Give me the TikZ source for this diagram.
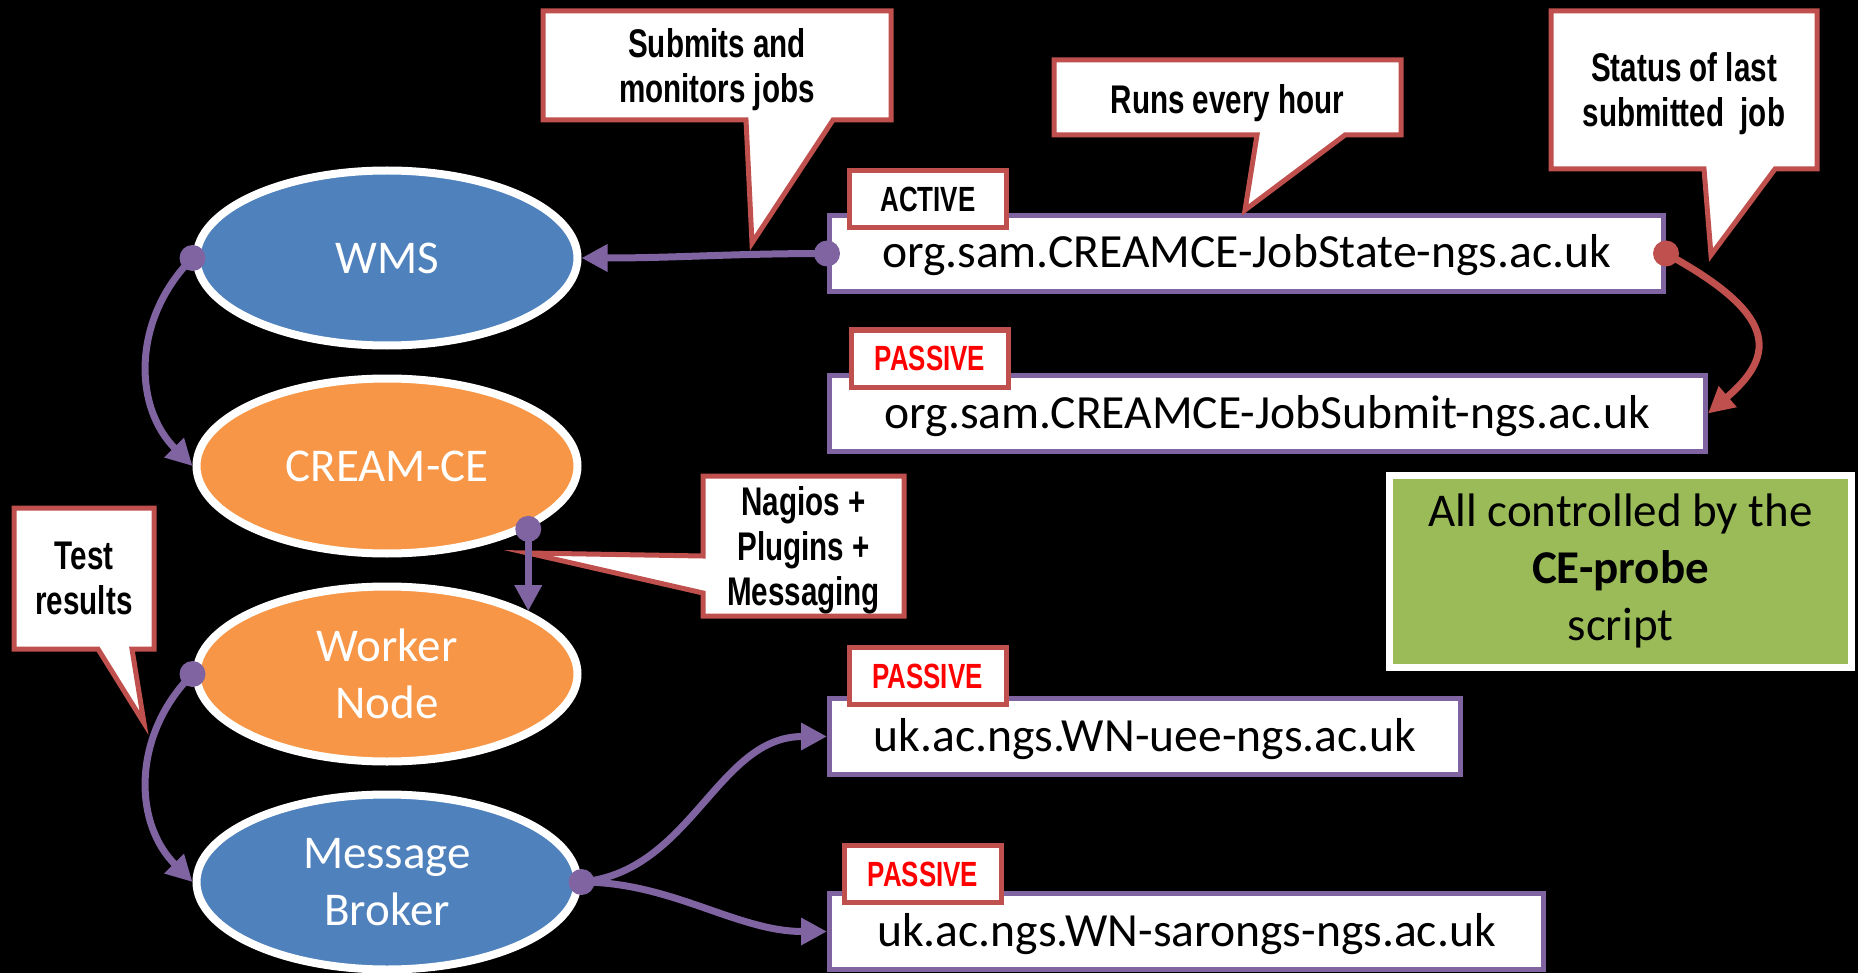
\documentclass[tikz,border=0pt]{standalone}
\usepackage{fontspec}
\setmainfont{Carlito}
\newfontfamily\narrowfont[FakeStretch=0.74]{Liberation Sans}
\usetikzlibrary{shapes.geometric,arrows.meta}

\definecolor{wmsblue}{HTML}{4F81BD}
\definecolor{ceorange}{HTML}{F79646}
\definecolor{linkpurple}{HTML}{8064A2}
\definecolor{calloutred}{HTML}{C0504D}
\definecolor{scriptgreen}{HTML}{9BBB59}
\definecolor{passivered}{HTML}{FF0000}

\begin{document}
\begin{tikzpicture}[x=0.5pt,y=0.5pt,
  service/.style={ellipse, draw=white, line width=4pt, minimum width=190.5pt, minimum height=87.5pt, inner sep=0pt, text=white, align=center, font=\fontsize{23.5}{28.5}\selectfont},
  probe/.style={draw=linkpurple, fill=white, line width=2.5pt, minimum height=38pt, inner sep=0pt, text height=14.5pt, text depth=0pt, font=\fontsize{23.8}{28}\selectfont},
  tag/.style={draw=calloutred, fill=white, line width=2.5pt, minimum width=78.5pt, minimum height=28.5pt, inner sep=0pt, text height=12.5pt, text depth=0pt, font=\narrowfont\bfseries\fontsize{17.5}{20}\selectfont},
  bubble/.style={draw=calloutred, fill=white, line width=2.5pt, line join=miter},
  note/.style={align=center, text depth=0pt, font=\narrowfont\bfseries\fontsize{20}{22.5}\selectfont},
  link/.style={draw=linkpurple, line width=3.5pt, -{Triangle[length=13pt,width=13pt]}},
  dot/.style={circle, fill=linkpurple, minimum size=13pt, inner sep=0pt}]

\fill[black] (0,0) rectangle (1858,-973);
\useasboundingbox (0,0) rectangle (1858,-973);

\node (wms) at (387,-258) [service, fill=wmsblue] {WMS};
\node (cream) at (387,-466) [service, fill=ceorange] {CREAM-CE};
\node (worker) at (387,-674) [service, fill=ceorange] {Worker\\Node};
\node (broker) at (387,-882) [service, fill=wmsblue] {Message\\Broker};

\node (js) at (1246.5,-253.5) [probe, minimum width=417pt] {org.sam.CREAMCE-JobState-ngs.ac.uk};
\node (jsub) at (1267.5,-413.5) [probe, minimum width=438pt] {org.sam.CREAMCE-JobSubmit-ngs.ac.uk};
\node (uee) at (1145,-736.5) [probe, minimum width=315.5pt] {uk.ac.ngs.WN-uee-ngs.ac.uk};
\node (sarongs) at (1186.5,-931.5) [probe, minimum width=357pt] {uk.ac.ngs.WN-sarongs-ngs.ac.uk};

\node (active) at (928,-199) [tag] {ACTIVE};
\node (passive1) at (930,-358.5) [tag, text=passivered] {PASSIVE};
\node (passive2) at (927.5,-676) [tag, text=passivered] {PASSIVE};
\node (passive3) at (923,-873.5) [tag, text=passivered] {PASSIVE};

\node (ctrl) at (1620.5,-571) [draw=white, fill=scriptgreen, line width=3.5pt, minimum width=231pt, minimum height=96pt, align=center, font=\fontsize{23.5}{28.5}\selectfont] {All controlled by the\\\textbf{CE-probe}\\script};

\draw[bubble] (543,-11) -- (891,-11) -- (891,-120) -- (833,-120) -- (752,-243) -- (746,-120) -- (543,-120) -- cycle;
\node (submits) at (717,-65.5) [note] {Submits and\\monitors jobs};
\draw[bubble] (1054,-60) -- (1401,-60) -- (1401,-135) -- (1345,-135) -- (1245,-210) -- (1257,-135) -- (1054,-135) -- cycle;
\node (hourly) at (1227.5,-99) [note] {Runs every hour};
\draw[bubble] (1551,-11) -- (1817,-11) -- (1817,-169) -- (1775,-169) -- (1711,-255) -- (1704,-169) -- (1551,-169) -- cycle;
\node (status) at (1684,-90) [note] {Status of last\\submitted\ \ job};
\draw[bubble] (703,-476) -- (904,-476) -- (904,-616) -- (703,-616) -- (703,-593) -- (528,-553) -- (703,-556) -- cycle;
\node (nagios) at (803.5,-546) [note] {Nagios +\\Plugins +\\Messaging};
\draw[bubble] (14,-508) -- (154,-508) -- (154,-649) -- (132,-649) -- (144,-723) -- (98,-649) -- (14,-649) -- cycle;
\node (results) at (84,-578.5) [note] {Test\\results};

\draw[link] (js.west) to[out=180,in=0] (wms.east);
\draw[link] (wms.west) .. controls +(-60,-60) and +(-60,60) .. (cream.west);
\draw[link] (cream.-24) -- (worker.24);
\draw[link] (worker.west) .. controls +(-60,-60) and +(-60,60) .. (broker.west);
\draw[link] (broker.east) .. controls +(110,10) and +(-110,0) .. (uee.west);
\draw[link] (broker.east) .. controls +(90,0) and +(-90,0) .. (sarongs.west);
\draw[link, draw=calloutred] (js.east) .. controls +(110,-60) and +(70,60) .. (jsub.east);

\node (jsdot) at (js.west) [dot] {};
\node (wmsdot) at (wms.west) [dot] {};
\node (creamdot) at (cream.-24) [dot] {};
\node (workerdot) at (worker.west) [dot] {};
\node (brokerdot) at (broker.east) [dot] {};
\node (statedot) at (js.east) [dot, fill=calloutred] {};
\end{tikzpicture}
\end{document}
